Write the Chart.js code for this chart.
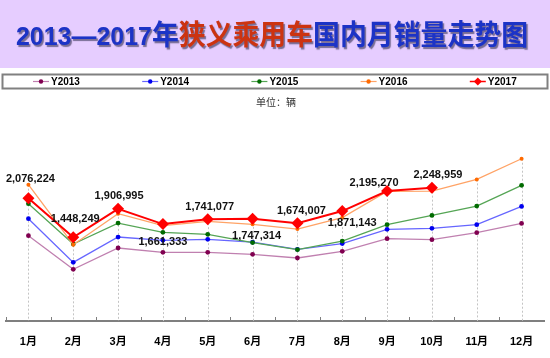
<!DOCTYPE html>
<html><head><meta charset="utf-8">
<script src="https://cdn.jsdelivr.net/npm/chart.js@4.4.0/dist/chart.umd.min.js"></script>
<style>html,body{margin:0;padding:0;background:#fff;}#wrap{width:550px;height:358px;position:relative;}</style>
</head><body><div id="wrap"><canvas id="c" width="550" height="358"></canvas></div>
<script>
const months = ['1月','2月','3月','4月','5月','6月','7月','8月','9月','10月','11月','12月'];
const seriesNames = ['Y2013','Y2014','Y2015','Y2016','Y2017'];
const y2013 = [1475000, 933000, 1276000, 1206000, 1206000, 1174000, 1115000, 1223000, 1427000, 1411000, 1524000, 1673000];
const y2014 = [1749000, 1045000, 1453000, 1400000, 1416000, 1370000, 1255000, 1347000, 1577000, 1593000, 1652000, 1947000];
const y2015 = [1991000, 1340000, 1678000, 1529000, 1496000, 1363000, 1250000, 1388000, 1652000, 1802000, 1952000, 2286000];
const y2016 = [2297000, 1330000, 1830000, 1636000, 1706000, 1657000, 1582000, 1765000, 2189000, 2194000, 2382000, 2715000];
const y2017 = [2076224, 1448249, 1906995, 1661333, 1741077, 1747314, 1674007, 1871143, 2195270, 2248959, null, null];

const titleRuns = [['2013—2017年','#1c33c6'],['狭义乘用车','#cc3311'],['国内月销量走势图','#1c33c6']];
const unitText = '单位：辆';

// label offsets (dx, dy) for the 2017 value labels
const labelOffsets = [[2,-19],[2,-18],[1,-13],[0,18],[2,-12],[4,17],[4,-12],[10,12],[-13,-8],[6,-13]];

const lineColors = ['#C080B0','#6666FF','#55A555','#FFA366','#FF0000'];
const pointColors = ['#800050','#0000EE','#006B00','#FF6A00','#FF0000'];
const allSeries = [y2013,y2014,y2015,y2016,y2017];

const datasets = allSeries.map((d,i)=>({
  label: seriesNames[i],
  data: d,
  borderColor: lineColors[i],
  backgroundColor: pointColors[i],
  pointBackgroundColor: pointColors[i],
  pointBorderColor: pointColors[i],
  borderWidth: i===4 ? 2 : 1.3,
  pointRadius: i===4 ? 6 : (i===3 ? 2 : 2.4),
  pointStyle: i===4 ? 'rectRot' : 'circle',
  pointBorderWidth: 0,
  tension: 0,
  spanGaps: false,
  order: 4 - i
}));

function isCJK(ch){ return /[\u3000-\u9fff\uff00-\uffef]/.test(ch); }

const decor = {
  id: 'decor',
  beforeDraw(chart){
    const ctx = chart.ctx;
    ctx.save();
    ctx.fillStyle = '#ffffff';
    ctx.fillRect(0,0,chart.width,chart.height);
    ctx.fillStyle = '#E6CDFF';
    ctx.fillRect(0,0,chart.width,68);
    // title
    const segs = [];
    titleRuns.forEach(([t,c])=>{
      for (const ch of t){
        const f = isCJK(ch) ? 'bold 28px "Noto Sans CJK SC"' : 'bold 26px "Liberation Sans", Arial';
        segs.push([ch,c,f]);
      }
    });
    let total = 0;
    segs.forEach(s=>{ ctx.font = s[2]; s.push(ctx.measureText(s[0]).width); total += s[3]; });
    const x0 = 16, targetW = 512;
    const sx = targetW/total;
    ctx.translate(x0, 0);
    ctx.scale(sx, 1);
    let x = 0;
    ctx.textBaseline = 'alphabetic';
    ctx.shadowColor = 'rgba(30,30,60,0.55)';
    ctx.shadowOffsetX = 1.5; ctx.shadowOffsetY = 1.5; ctx.shadowBlur = 1;
    segs.forEach(s=>{
      ctx.font = s[2]; ctx.fillStyle = s[1];
      ctx.fillText(s[0], x, 45);
      x += s[3];
    });
    ctx.restore();
    // legend box
    ctx.save();
    ctx.strokeStyle = '#808080'; ctx.lineWidth = 2;
    ctx.strokeRect(2.5, 74.5, 545, 14);
    const ly = 81.5;
    chart.data.datasets.forEach((ds,i)=>{
      const sx0 = 2 + i*109.2 + 31;
      ctx.strokeStyle = ds.borderColor; ctx.lineWidth = i===4 ? 1.5 : 1.2;
      ctx.beginPath(); ctx.moveTo(sx0, ly); ctx.lineTo(sx0+16, ly); ctx.stroke();
      ctx.fillStyle = ds.pointBackgroundColor;
      const cx = sx0+8;
      if (i===4){
        ctx.beginPath(); ctx.moveTo(cx, ly-4); ctx.lineTo(cx+4, ly); ctx.lineTo(cx, ly+4); ctx.lineTo(cx-4, ly); ctx.closePath(); ctx.fill();
      } else {
        ctx.beginPath(); ctx.arc(cx, ly, 2.2, 0, Math.PI*2); ctx.fill();
      }
      ctx.fillStyle = '#000';
      ctx.font = 'bold 10px "Liberation Sans", Arial';
      ctx.textBaseline = 'middle'; ctx.textAlign = 'left';
      ctx.fillText(ds.label, sx0+18, ly+0.5);
    });
    // unit
    ctx.fillStyle = '#333';
    ctx.font = '10px "Noto Sans CJK SC"';
    ctx.textAlign = 'center'; ctx.textBaseline = 'middle';
    ctx.fillText(unitText, 276, 102);
    ctx.restore();
  },
  beforeDatasetsDraw(chart){
    const ctx = chart.ctx, xs = chart.scales.x, ys = chart.scales.y;
    const bottom = chart.chartArea.bottom;
    ctx.save();
    ctx.strokeStyle = '#c4c4c4'; ctx.lineWidth = 1; ctx.setLineDash([2,2]);
    months.forEach((m,i)=>{
      let maxV = -Infinity;
      allSeries.forEach(s=>{ if (s[i]!=null && s[i]>maxV) maxV = s[i]; });
      const px = Math.round(xs.getPixelForValue(i))+0.5;
      ctx.beginPath(); ctx.moveTo(px, ys.getPixelForValue(maxV)); ctx.lineTo(px, bottom); ctx.stroke();
    });
    ctx.setLineDash([]);
    ctx.strokeStyle = '#7f7f7f'; ctx.lineWidth = 1;
    const step = xs.getPixelForValue(1) - xs.getPixelForValue(0);
    for (let i=0;i<12;i++){
      const px = Math.round(xs.getPixelForValue(i) - step/2)+0.5;
      ctx.beginPath(); ctx.moveTo(px, bottom); ctx.lineTo(px, bottom-4); ctx.stroke();
    }
    ctx.restore();
  },
  afterDatasetsDraw(chart){
    const ctx = chart.ctx;
    const meta = chart.getDatasetMeta(4);
    ctx.save();
    ctx.font = 'bold 11px "Liberation Sans", Arial';
    ctx.fillStyle = '#111';
    ctx.textAlign = 'center'; ctx.textBaseline = 'middle';
    y2017.forEach((v,i)=>{
      if (v==null) return;
      const p = meta.data[i];
      const off = labelOffsets[i];
      ctx.fillText(v.toLocaleString('en-US'), p.x + off[0], p.y + off[1]);
    });
    ctx.restore();
  }
};

new Chart(document.getElementById('c'), {
  type: 'line',
  data: { labels: months, datasets },
  options: {
    responsive: false,
    animation: false,
    devicePixelRatio: 1,
    layout: { padding: { top: 110, left: 2, right: 0, bottom: 10 } },
    plugins: { legend: { display: false }, title: { display: false }, tooltip: { enabled: false } },
    scales: {
      x: {
        offset: true,
        grid: { display: false, drawTicks: false },
        border: { display: true, color: '#7f7f7f', width: 2 },
        ticks: { color: '#000', padding: 14, font: { size: 11, weight: 'bold', family: '"Liberation Sans", "Noto Sans CJK SC", Arial' }, maxRotation: 0, autoSkip: false },
        afterFit(scale){ scale.height = 27; }
      },
      y: { display: false, min: 100000, max: 3500000 }
    }
  },
  plugins: [decor]
});
</script>
</body></html>
